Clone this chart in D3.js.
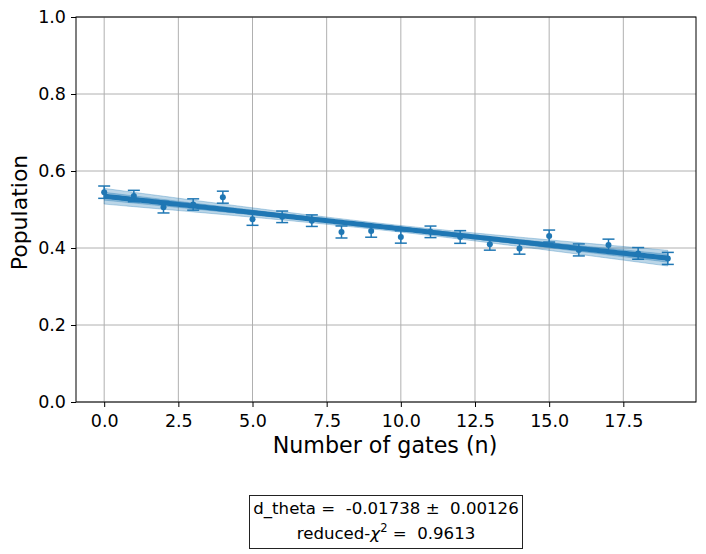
<!DOCTYPE html>
<html><head><meta charset="utf-8">
<script src="https://cdn.jsdelivr.net/npm/d3@7"></script>
<style>body{margin:0;background:#fff;} svg{display:block;font-family:"DejaVu Sans",sans-serif;} text{white-space:pre;}</style>
</head><body>
<svg id="c" width="706" height="554"></svg>
<script>
const gates = [0,1,2,3,4,5,6,7,8,9,10,11,12,13,14,15,16,17,18,19];
const population = [0.545,0.535,0.506,0.513,0.532,0.4745,0.481,0.471,0.4416,0.444,0.4286,0.442,0.4286,0.410,0.399,0.431,0.395,0.408,0.386,0.373];
const errors = [0.016,0.0148,0.015,0.0147,0.0156,0.0156,0.015,0.015,0.0156,0.016,0.016,0.015,0.0165,0.0156,0.015,0.0156,0.0156,0.015,0.0152,0.0156];
const fitIntercept = 0.5345, fitSlope = -0.00847;
const fitSigA = 0.0085, fitSigB = 0.00195, fitCenter = 9.5;
const xTicks = [0,2.5,5,7.5,10,12.5,15,17.5];
const yTicks = [0,0.2,0.4,0.6,0.8,1.0];
const fitText1 = "d_theta =  -0.01738 \u00b1  0.00126";
const fitChi = "0.9613";

const svg = d3.select("#c");
const L=76,R=696,T=17,B=402;
const x = d3.scaleLinear().domain([-0.95,19.95]).range([L,R]);
const y = d3.scaleLinear().domain([0,1]).range([B,T]);
const col = "#1f77b4";

// grid
svg.append("g").selectAll("line").data(xTicks).join("line")
  .attr("x1",d=>x(d)).attr("x2",d=>x(d)).attr("y1",T).attr("y2",B)
  .attr("stroke","#b0b0b0").attr("stroke-width",1);
svg.append("g").selectAll("line").data(yTicks).join("line")
  .attr("x1",L).attr("x2",R).attr("y1",d=>y(d)).attr("y2",d=>y(d))
  .attr("stroke","#b0b0b0").attr("stroke-width",1);

// fit
const fine = d3.range(0,19.001,0.1);
const fitF = n => fitIntercept + fitSlope*n;
const sig = n => Math.sqrt(fitSigA*fitSigA + fitSigB*fitSigB*(n-fitCenter)*(n-fitCenter));
[1,0.5].forEach(k=>{
  const area = d3.area().x(d=>x(d)).y0(d=>y(fitF(d)-k*sig(d))).y1(d=>y(fitF(d)+k*sig(d)));
  svg.append("path").attr("d",area(fine)).attr("fill",col).attr("fill-opacity",0.3)
    .attr("stroke",col).attr("stroke-opacity",0.3).attr("stroke-width",1);
});
svg.append("path").attr("d",d3.line().x(d=>x(d)).y(d=>y(fitF(d)))(fine))
  .attr("fill","none").attr("stroke",col).attr("stroke-width",5);

// error bars
const eg = svg.append("g").attr("stroke",col).attr("stroke-width",1.5);
gates.forEach((n,i)=>{
  const cx=x(n), y0=y(population[i]-errors[i]), y1=y(population[i]+errors[i]);
  eg.append("line").attr("x1",cx).attr("x2",cx).attr("y1",y0).attr("y2",y1);
  eg.append("line").attr("x1",cx-6).attr("x2",cx+6).attr("y1",y0).attr("y2",y0);
  eg.append("line").attr("x1",cx-6).attr("x2",cx+6).attr("y1",y1).attr("y2",y1);
});
svg.append("g").selectAll("circle").data(gates).join("circle")
  .attr("cx",d=>x(d)).attr("cy",(d,i)=>y(population[i])).attr("r",3).attr("fill",col);

// axes
const xa = svg.append("g").attr("transform",`translate(0,${B})`)
  .call(d3.axisBottom(x).tickValues(xTicks).tickFormat(d3.format(".1f")).tickSize(5).tickSizeOuter(0));
const ya = svg.append("g").attr("transform",`translate(${L},0)`)
  .call(d3.axisLeft(y).tickValues(yTicks).tickFormat(d3.format(".1f")).tickSize(5).tickSizeOuter(0));
[xa,ya].forEach(a=>{
  a.selectAll("text").attr("font-size",17.5).attr("fill","#000").attr("font-family","DejaVu Sans");
  a.selectAll("line").attr("stroke","#000");
  a.select(".domain").remove();
});
xa.selectAll("text").attr("dy","0.71em").attr("y",13);
ya.selectAll("text").attr("x",-10);
svg.append("rect").attr("x",L).attr("y",T).attr("width",R-L).attr("height",B-T)
  .attr("fill","none").attr("stroke","#000").attr("stroke-width",1);

svg.append("text").attr("x",(L+R)/2 - 1).attr("y",453).attr("text-anchor","middle")
  .attr("font-size",22.2).text("Number of gates (n)");
svg.append("text").attr("transform",`translate(27,${(T+B)/2+3}) rotate(-90)`).attr("text-anchor","middle")
  .attr("font-size",22).text("Population");

// fit info box
svg.append("rect").attr("x",249.5).attr("y",495.5).attr("width",273).attr("height",53)
  .attr("fill","#fff").attr("stroke","#222").attr("stroke-width",1);
svg.append("text").attr("x",386).attr("y",514).attr("text-anchor","middle").attr("font-size",16.6).text(fitText1);
const t2 = svg.append("text").attr("x",386).attr("y",539).attr("text-anchor","middle").attr("font-size",16.6);
t2.append("tspan").text("reduced-");
t2.append("tspan").attr("font-style","italic").text("\u03c7");
t2.append("tspan").attr("font-size",11.5).attr("dy",-7).text("2");
t2.append("tspan").attr("dy",7).text(" =  " + fitChi);
</script>
</body></html>
